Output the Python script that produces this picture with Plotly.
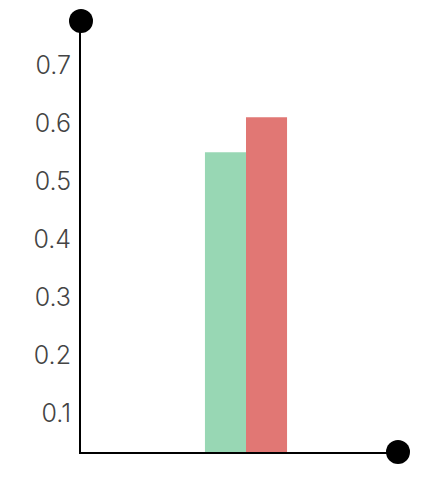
import plotly.graph_objects as go

categories = ["A"]
series_names = ["Series 1", "Series 2"]
series_values = [[0.55], [0.61]]
series_colors = ["#98d7b4", "#e17774"]
tick_vals = [0.1, 0.2, 0.3, 0.4, 0.5, 0.6, 0.7]
tick_text = ["0.1", "0.2", "0.3", "0.4", "0.5", "0.6", "0.7"]

fig = go.Figure()
for name, vals, col in zip(series_names, series_values, series_colors):
    fig.add_trace(go.Bar(x=categories, y=vals, name=name, marker_color=col,
                         marker_line_width=0))

fig.update_layout(
    width=438, height=481,
    margin=dict(l=73, r=48, t=13, b=37),
    paper_bgcolor="white", plot_bgcolor="white",
    barmode="group", bargap=0.741, bargroupgap=0,
    showlegend=False,
    font=dict(family="Inter", size=25, color="#444444", weight=300),
)
fig.update_xaxes(range=[-0.5205, 0.4795], showticklabels=False, showgrid=False,
                 zeroline=False, showline=True, linecolor="black", linewidth=2)
fig.update_yaxes(range=[0.0337, 0.7758], tickvals=tick_vals, ticktext=tick_text,
                 showgrid=False, zeroline=False, showline=True, linecolor="black",
                 linewidth=2, ticks="outside", ticklen=3, tickcolor="rgba(0,0,0,0)",
                 tickfont=dict(family="Inter", size=25, color="#444444", weight=300))

for (x, y) in [(0, 1), (1, 0)]:
    fig.add_shape(type="circle", xref="paper", yref="paper", xsizemode="pixel",
                  ysizemode="pixel", xanchor=x, yanchor=y, x0=-12, x1=12, y0=-12, y1=12,
                  fillcolor="black", line=dict(width=0), layer="above")

fig.write_html("out.html")
